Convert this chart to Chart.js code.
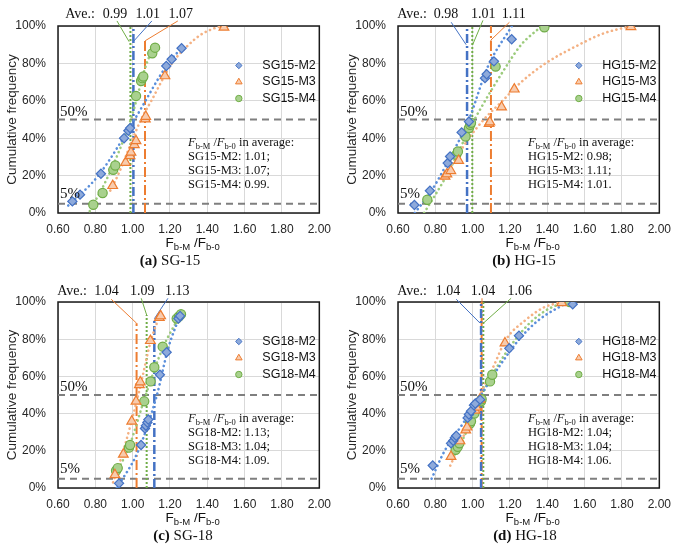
<!DOCTYPE html>
<html>
<head>
<meta charset="utf-8">
<script src="https://cdn.jsdelivr.net/npm/chart.js@4.4.0/dist/chart.umd.min.js"></script>
<style>
  body { margin: 0; background: #fff; }
  #wrap { position: relative; width: 685px; height: 550px; }
  canvas { position: absolute; }
</style>
</head>
<body>
<div id="wrap">
  <canvas id="c0" width="340" height="275" style="left:0;top:0"></canvas>
  <canvas id="c1" width="340" height="275" style="left:340px;top:0"></canvas>
  <canvas id="c2" width="340" height="275" style="left:0;top:275px"></canvas>
  <canvas id="c3" width="340" height="275" style="left:340px;top:275px"></canvas>
</div>
<script>
// ---- axis ----
const xMin = 0.6, xMax = 2.0, xStep = 0.2;
const yMin = 0, yMax = 100, yStep = 20;
const refLevels = [50, 5];
const refLabels = ['50%', '5%'];

// ---- (a) SG-15 : [ratio, cumulative %] ----
const sg15Names = ['SG15-M2', 'SG15-M3', 'SG15-M4'];
const sg15M2 = [[0.677,6.2],[0.718,9.8],[0.830,21.0],[0.954,40.0],[0.977,44.0],[0.986,45.4],[1.180,78.6],[1.209,82.2],[1.262,88.1]];
const sg15M3 = [[0.893,14.6],[0.962,27.0],[0.986,30.6],[0.991,32.4],[1.009,36.5],[1.018,38.6],[1.068,50.2],[1.070,51.6],[1.173,73.3],[1.489,99.3]];
const sg15M4 = [[0.789,4.4],[0.839,10.7],[0.896,23.1],[0.907,25.4],[1.018,62.6],[1.045,70.6],[1.052,72.1],[1.057,73.0],[1.105,85.4],[1.120,88.4]];
const sg15FitM2 = [[0.655,4],[0.816,20],[1.01,50],[1.19,80],[1.27,89]];
const sg15FitM3 = [[0.88,12],[0.92,20],[1.045,50],[1.10,60],[1.21,80],[1.29,89],[1.36,95],[1.43,98.5],[1.48,100]];
const sg15FitM4 = [[0.77,1],[0.87,20],[0.99,50],[1.075,80],[1.12,90]];
const sg15Avg = ['1.01', '1.07', '0.99'];
const sg15AvgX = [1.004, 1.066, 0.988];
const sg15AvgTop = [100, 92, 100];
const sg15LabelX = [1.081, 1.258, 0.905];
const sg15Leaders = [[[1.003,91.6],[1.103,102.7]], [[1.067,92.1],[1.242,102.7]], [[0.981,91.6],[0.916,102.7]]];

// ---- (b) HG-15 ----
const hg15Names = ['HG15-M2', 'HG15-M3', 'HG15-M4'];
const hg15M2 = [[0.688,4.3],[0.771,11.9],[0.866,26.7],[0.879,30.2],[0.941,43.1],[0.980,48.9],[1.066,72.1],[1.075,74.2],[1.114,81.1],[1.209,92.9]];
const hg15M3 = [[0.852,19.6],[0.862,20.8],[0.883,22.6],[0.925,28.0],[1.088,47.8],[1.092,48.6],[1.155,56.6],[1.223,66.2],[1.848,99.6]];
const hg15M4 = [[0.757,7.1],[0.912,31.1],[0.921,32.9],[0.962,40.9],[0.980,45.4],[0.987,47.2],[0.991,48.2],[1.123,78.3],[1.384,99.3]];
const hg15FitM2 = [[0.69,0],[0.78,12],[0.87,28],[0.98,50],[1.08,78],[1.21,100]];
const hg15FitM3 = [[0.84,18],[0.98,40],[1.06,50],[1.16,60],[1.26,70],[1.39,80],[1.57,90],[1.70,96],[1.85,100]];
const hg15FitM4 = [[0.74,0],[0.86,20],[1.01,50],[1.19,80],[1.26,90],[1.37,100]];
const hg15Avg = ['0.98', '1.11', '1.01'];
const hg15AvgX = [0.970, 1.098, 0.998];
const hg15AvgTop = [100, 100, 100];
const hg15LabelX = [0.857, 1.220, 1.057];
const hg15Leaders = [[[0.965,90],[0.885,102]], [[1.098,90],[1.098,92.5],[1.197,102]], [[1.0,90],[1.055,103]]];

// ---- (c) SG-18 ----
const sg18Names = ['SG18-M2', 'SG18-M3', 'SG18-M4'];
const sg18M2 = [[0.927,2.5],[1.045,23.1],[1.066,32.0],[1.071,33.5],[1.079,35.2],[1.084,36.8],[1.146,60.9],[1.182,73.0],[1.245,91.1],[1.254,92.5]];
const sg18M3 = [[0.905,7.1],[0.950,18.1],[0.995,35.9],[1.018,46.6],[1.036,55.5],[1.041,56.9],[1.095,79.2],[1.143,91.6],[1.150,92.5]];
const sg18M4 = [[0.911,9.3],[0.920,10.7],[0.980,21.7],[0.986,23.1],[1.062,46.6],[1.096,57.3],[1.116,64.9],[1.161,76.0],[1.236,91.1],[1.248,92.2],[1.259,93.4]];
const sg18FitM2 = [[0.915,0],[1.03,20],[1.13,50],[1.19,75],[1.25,92]];
const sg18FitM3 = [[0.895,3],[0.95,20],[1.03,50],[1.10,80],[1.15,94]];
const sg18FitM4 = [[0.90,6],[0.98,22],[1.07,50],[1.16,75],[1.26,94]];
const sg18Avg = ['1.13', '1.04', '1.09'];
const sg18AvgX = [1.116, 1.021, 1.075];
const sg18AvgTop = [91, 88.6, 93];
const sg18LabelX = [1.239, 0.860, 1.052];
const sg18Leaders = [[[1.116,91],[1.189,102]], [[1.021,88.6],[0.885,101.5]], [[1.075,93],[1.046,102]]];

// ---- (d) HG-18 ----
const hg18Names = ['HG18-M2', 'HG18-M3', 'HG18-M4'];
const hg18M2 = [[0.786,12.1],[0.884,24.0],[0.896,25.4],[0.905,27.0],[0.912,28.1],[0.973,37.7],[0.980,39.5],[0.991,41.3],[1.007,44.5],[1.014,45.4],[1.040,47.5],[1.196,75.1],[1.248,81.9],[1.536,98.8]];
const hg18M3 = [[0.884,16.9],[0.932,25.3],[0.963,31.1],[0.970,32.7],[1.013,41.8],[1.020,43.4],[1.039,47.7],[1.173,77.9],[1.477,99.6]];
const hg18M4 = [[0.909,20.5],[0.920,22.2],[0.929,24.0],[0.986,34.7],[0.991,35.9],[1.009,40.0],[1.045,46.6],[1.048,47.7],[1.093,57.3],[1.105,60.9],[1.521,100]];
const hg18FitM2 = [[0.78,5],[0.85,20],[0.95,35],[1.045,50],[1.14,65],[1.25,80],[1.35,90],[1.51,100]];
const hg18FitM3 = [[0.88,12],[0.96,30],[1.04,50],[1.11,65],[1.18,80],[1.28,90],[1.38,97],[1.48,100]];
const hg18FitM4 = [[0.905,18],[0.98,33],[1.05,50],[1.13,65],[1.23,80],[1.32,90],[1.42,97],[1.52,100]];
const hg18Avg = ['1.04', '1.04', '1.06'];
const hg18AvgX = [1.045, 1.048, 1.057];
const hg18AvgTop = [100, 100, 100];
const hg18LabelX = [0.868, 1.055, 1.252];
const hg18Leaders = [[[1.04,88.6],[0.912,101.5]], [[1.048,100],[1.050,102]], [[1.057,88.6],[1.206,102]]];

const captionTags = ['(a)', '(b)', '(c)', '(d)'];
const captionNames = ['SG-15', 'HG-15', 'SG-18', 'HG-18'];
const aveLabelX = [0.718, 0.675, 0.675, 0.675];

// styles: M2 blue diamonds, M3 orange triangles, M4 green circles
const styles = [
  { point: 'rectRot', r: 4.6, legR: 3.2, fill: '#8EAADB', line: '#4472C4', fit: '#5B8FDB', dash: [9, 3, 2, 3], w: 2.5 },
  { point: 'triangle', r: 5.6, legR: 3.8, fill: '#F8CBAD', line: '#ED7D31', fit: '#F4B183', dash: [10, 3, 2, 3], w: 2 },
  { point: 'circle', r: 4.6, legR: 3.2, fill: '#A9D18E', line: '#70AD47', fit: '#9CCB7C', dash: [2, 2], w: 2 }
];

const panels = [
  { names: sg15Names, pts: [sg15M2, sg15M3, sg15M4], fits: [sg15FitM2, sg15FitM3, sg15FitM4], avg: sg15Avg, avgX: sg15AvgX, avgTop: sg15AvgTop, labelX: sg15LabelX, leaders: sg15Leaders, capX: 170 },
  { names: hg15Names, pts: [hg15M2, hg15M3, hg15M4], fits: [hg15FitM2, hg15FitM3, hg15FitM4], avg: hg15Avg, avgX: hg15AvgX, avgTop: hg15AvgTop, labelX: hg15LabelX, leaders: hg15Leaders, capX: 184 },
  { names: sg18Names, pts: [sg18M2, sg18M3, sg18M4], fits: [sg18FitM2, sg18FitM3, sg18FitM4], avg: sg18Avg, avgX: sg18AvgX, avgTop: sg18AvgTop, labelX: sg18LabelX, leaders: sg18Leaders, capX: 183 },
  { names: hg18Names, pts: [hg18M2, hg18M3, hg18M4], fits: [hg18FitM2, hg18FitM3, hg18FitM4], avg: hg18Avg, avgX: hg18AvgX, avgTop: hg18AvgTop, labelX: hg18LabelX, leaders: hg18Leaders, capX: 185 }
];

Chart.defaults.font.family = 'Liberation Sans';
Chart.defaults.color = '#262626';

const SERIF = 'Liberation Serif';
const SANS = 'Liberation Sans';

function xy(arr) {
  return arr.map(p => ({ x: p[0], y: p[1] }));
}

// text made of several runs (font changes, subscripts)
function drawRuns(ctx, parts, x, y, align) {
  let w = 0;
  parts.forEach(r => { ctx.font = r[1]; w += ctx.measureText(r[0]).width; });
  let cx = align === 'center' ? x - w / 2 : x;
  ctx.textAlign = 'left';
  ctx.textBaseline = 'alphabetic';
  parts.forEach(r => {
    ctx.font = r[1];
    ctx.fillText(r[0], cx, y + r[2]);
    cx += ctx.measureText(r[0]).width;
  });
}

function legendMarker(ctx, st, x, y) {
  const r = st.legR;
  ctx.save();
  ctx.fillStyle = st.fill;
  ctx.strokeStyle = st.line;
  ctx.lineWidth = 1;
  ctx.beginPath();
  if (st.point === 'rectRot') {
    ctx.moveTo(x, y - r); ctx.lineTo(x + r, y); ctx.lineTo(x, y + r); ctx.lineTo(x - r, y);
  } else if (st.point === 'triangle') {
    ctx.moveTo(x, y - r); ctx.lineTo(x + r * 0.87, y + r * 0.5); ctx.lineTo(x - r * 0.87, y + r * 0.5);
  } else {
    ctx.arc(x, y, r, 0, Math.PI * 2);
  }
  ctx.closePath();
  ctx.fill();
  ctx.stroke();
  ctx.restore();
}

function makeDecor(p, k) {
  return {
    id: 'decor' + k,
    beforeDatasetsDraw(chart) {
      const { ctx, chartArea: a } = chart;
      ctx.save();
      ctx.strokeStyle = '#1a1a1a';
      ctx.lineWidth = 1.5;
      ctx.strokeRect(a.left, a.top, a.right - a.left, a.bottom - a.top);
      ctx.restore();
    },
    afterDraw(chart) {
      const { ctx, chartArea: a } = chart;
      const xs = chart.scales.x, ys = chart.scales.y;
      ctx.save();
      ctx.fillStyle = '#111';

      // 50% / 5% labels
      ctx.font = '15px ' + SERIF;
      ctx.textAlign = 'left';
      ctx.textBaseline = 'alphabetic';
      ctx.fillText(refLabels[0], a.left + 2, ys.getPixelForValue(refLevels[0]) - 4);
      ctx.fillText(refLabels[1], a.left + 2, ys.getPixelForValue(refLevels[1]) - 6);

      // Ave. labels above the plot
      ctx.font = '14px ' + SERIF;
      ctx.textAlign = 'center';
      ctx.textBaseline = 'middle';
      const ty = ys.getPixelForValue(106);
      ctx.fillText('Ave.:', xs.getPixelForValue(aveLabelX[k]), ty);
      p.avg.forEach((v, i) => ctx.fillText(v, xs.getPixelForValue(p.labelX[i]), ty));

      // average box
      const bx = a.left + 130;
      const by = a.top + 120;
      const f = '12.5px ' + SERIF, fi = 'italic 12.5px ' + SERIF, fs = '8.5px ' + SERIF;
      drawRuns(ctx, [['F', fi, 0], ['b-M', fs, 3], [' /', f, 0], ['F', fi, 0], ['b-0', fs, 3], [' in average:', f, 0]], bx, by, 'left');
      ctx.font = f;
      ctx.textAlign = 'left';
      ctx.textBaseline = 'alphabetic';
      p.names.forEach((n, i) => {
        ctx.fillText(n + ': ' + p.avg[i] + (i < 2 ? ';' : '.'), bx, by + 14 * (i + 1));
      });

      // legend
      ctx.font = '12.5px ' + SANS;
      ctx.textBaseline = 'middle';
      p.names.forEach((n, i) => {
        const ly = a.top + 39.5 + 16.5 * i;
        legendMarker(ctx, styles[i], a.right - 80.5, ly);
        ctx.fillStyle = '#111';
        ctx.textAlign = 'left';
        ctx.fillText(n, a.right - 57, ly);
      });

      // x axis title with subscripts
      const cx = (a.left + a.right) / 2 + 4;
      drawRuns(ctx, [['F', '13.5px ' + SANS, 0], ['b-M', '9.5px ' + SANS, 3], [' /F', '13.5px ' + SANS, 0], ['b-0', '9.5px ' + SANS, 3]], cx, a.bottom + 34, 'center');

      // caption
      drawRuns(ctx, [[captionTags[k], 'bold 15px ' + SERIF, 0], [' ' + captionNames[k], '15px ' + SERIF, 0]], p.capX, a.bottom + 52, 'center');
      ctx.restore();
    }
  };
}

function buildDatasets(p) {
  const ds = [];
  p.pts.forEach((pts, i) => {
    const st = styles[i];
    ds.push({ data: xy(pts), pointStyle: st.point, pointRadius: st.r, pointHoverRadius: st.r,
      backgroundColor: st.fill, borderColor: st.line, borderWidth: 1.2, showLine: false });
  });
  p.fits.forEach((pts, i) => {
    ds.push({ data: xy(pts), showLine: true, pointRadius: 0, borderColor: styles[i].fit, borderWidth: 2.6,
      borderDash: [0.1, 4.6], borderCapStyle: 'round', cubicInterpolationMode: 'monotone', fill: false });
  });
  p.avgX.forEach((x, i) => {
    ds.push({ data: [{ x: x, y: 0 }, { x: x, y: p.avgTop[i] }], showLine: true, pointRadius: 0,
      borderColor: styles[i].line, borderWidth: styles[i].w, borderDash: styles[i].dash, fill: false });
  });
  p.leaders.forEach((pts, i) => {
    ds.push({ data: xy(pts), showLine: true, pointRadius: 0, borderColor: styles[i].line, borderWidth: 1,
      clip: false, fill: false });
  });
  refLevels.forEach(lv => {
    ds.push({ data: [{ x: xMin, y: lv }, { x: xMax, y: lv }], showLine: true, pointRadius: 0,
      borderColor: '#7F7F7F', borderWidth: 2, borderDash: [7, 5], fill: false });
  });
  return ds;
}

panels.forEach((p, k) => {
  new Chart(document.getElementById('c' + k), {
    type: 'scatter',
    data: { datasets: buildDatasets(p) },
    options: {
      responsive: false,
      animation: false,
      events: [],
      layout: { padding: { left: 0, right: 20, top: k < 2 ? 26 : 27, bottom: 0 } },
      plugins: { legend: { display: false }, tooltip: { enabled: false } },
      scales: {
        x: {
          type: 'linear', min: xMin, max: xMax,
          ticks: { stepSize: xStep, callback: v => v.toFixed(2), font: { size: 12 }, color: '#262626', padding: 9, maxRotation: 0, autoSkip: false },
          grid: { color: '#D9D9D9', drawTicks: false },
          border: { display: false },
          afterFit(s) { s.height = 62; }
        },
        y: {
          type: 'linear', min: yMin, max: yMax,
          ticks: { stepSize: yStep, callback: v => v + '%', font: { size: 12 }, color: '#262626', padding: 12 },
          grid: { color: '#D9D9D9', drawTicks: false },
          border: { display: false },
          title: { display: true, text: 'Cumulative frequency', font: { size: 13.5 }, color: '#262626', padding: { top: 4, bottom: 0 } },
          afterFit(s) { s.width = 58; }
        }
      }
    },
    plugins: [makeDecor(p, k)]
  });
});
</script>
</body>
</html>
